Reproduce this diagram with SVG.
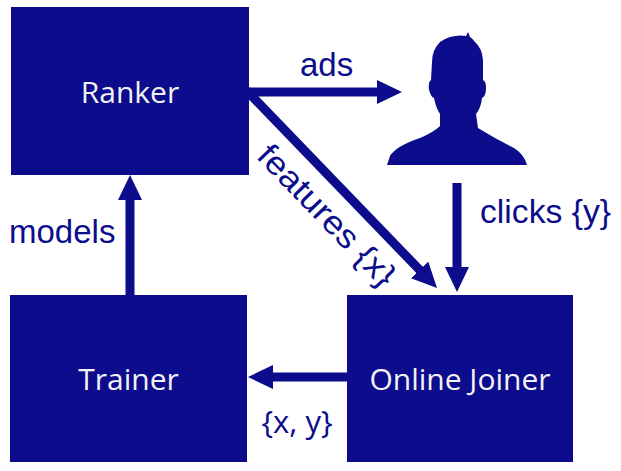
<svg xmlns="http://www.w3.org/2000/svg" width="621" height="471" viewBox="0 0 621 471">
<style>
.box{fill:#0c0c8c}
.blabel{font-family:"Open Sans","Noto Sans",sans-serif;font-size:30px;fill:#f2f2f2;text-anchor:middle}
.elabel{font-family:"Liberation Sans",Arial,sans-serif;font-size:33px;fill:#0c0c8c}
.conn{stroke:#0c0c8c;stroke-width:9;fill:none;marker-end:url(#ah)}
</style>
<defs>
<marker id="ah" markerUnits="userSpaceOnUse" viewBox="0 0 25 24" markerWidth="25" markerHeight="24" refX="10" refY="12" orient="auto">
<path d="M0,0 L25,12 L0,24 Z" fill="#0c0c8c"/>
</marker>
</defs>
<rect width="621" height="471" fill="#ffffff"/>
<g id="connectors">
<line class="conn" x1="244" y1="92" x2="387" y2="92"/>
<line class="conn" x1="245" y1="89" x2="426.6" y2="277.2"/>
<line class="conn" x1="457" y1="183" x2="457" y2="277"/>
<line class="conn" x1="130" y1="295" x2="130" y2="190"/>
<line class="conn" x1="349" y1="377" x2="263" y2="377"/>
<text class="elabel" x="300" y="76">ads</text>
<text class="elabel" transform="translate(248,92) rotate(46)" x="52" y="40" textLength="183" lengthAdjust="spacingAndGlyphs">features {x}</text>
<text class="elabel" x="480" y="223" textLength="131" lengthAdjust="spacingAndGlyphs">clicks {y}</text>
<text class="elabel" x="9" y="243">models</text>
<text x="297" y="433" style="font-family:'Open Sans','Noto Sans',sans-serif;font-size:31px;fill:#0c0c8c;text-anchor:middle">{x, y}</text>
</g>
<g id="ranker">
<rect class="box" x="11" y="7" width="238" height="168"/>
<text class="blabel" x="130" y="103">Ranker</text>
</g>
<g id="user">
<path fill="#0c0c8c" d="M468 32 L466 36 Q452 34 440 42 Q432 50 432 62 L431 80 Q428 82 429 90 Q431 97 434 98 Q436 108 440 114 L440 126 Q434 132 420 138 Q396 146 390 156 L387 165 L527 165 Q524 154 514 148 Q494 138 478 128 L476 114 Q481 108 482 98 Q486 96 486 88 Q486 81 483 80 L483 60 Q482 48 475 42 Q472 38 470 37 Z"/>
</g>
<g id="trainer">
<rect class="box" x="10" y="295" width="237" height="167"/>
<text class="blabel" x="128.5" y="390">Trainer</text>
</g>
<g id="online-joiner">
<rect class="box" x="347" y="295" width="226" height="167"/>
<text class="blabel" x="460" y="390">Online Joiner</text>
</g>
</svg>
